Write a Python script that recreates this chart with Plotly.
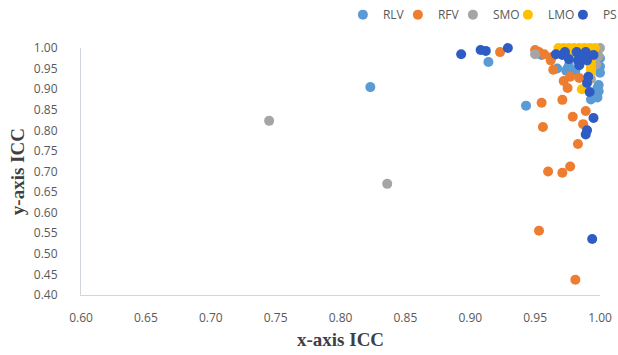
import plotly.graph_objects as go

# ---- data ----
series_names = ["RLV", "RFV", "SMO", "LMO", "PS"]
series_colors = ["#5B9BD5", "#ED7D31", "#A5A5A5", "#FFC000", "#2F5CC4"]

rlv_x = [0.823, 0.914, 0.955, 0.943, 0.975, 0.998, 0.998, 0.993, 0.967, 0.974, 0.981,
         1.000, 1.000, 0.976, 0.990, 1.000, 0.999, 0.999, 0.951, 0.996]
rlv_y = [0.905, 0.966, 0.983, 0.860, 0.951, 0.903, 0.880, 0.875, 0.950, 0.945, 0.945,
         0.975, 0.955, 0.957, 0.990, 0.940, 0.910, 0.895, 0.990, 0.888]

rfv_x = [0.923, 0.950, 0.953, 0.955, 0.971, 0.963, 0.964, 0.962, 0.977, 0.975, 0.984,
         0.989, 0.979, 0.956, 0.987, 0.983, 0.960, 0.971, 0.977, 0.953, 0.981, 0.972, 0.957]
rfv_y = [0.990, 0.995, 0.990, 0.867, 0.874, 0.978, 0.947, 0.970, 0.930, 0.903, 0.927,
         0.847, 0.833, 0.808, 0.815, 0.767, 0.700, 0.697, 0.712, 0.556, 0.437, 0.920, 0.985]

smo_x = [0.745, 0.836, 0.950, 1.000, 0.998, 0.993, 0.997, 0.999]
smo_y = [0.823, 0.670, 0.985, 1.000, 0.990, 0.925, 0.960, 0.980]

lmo_x = [0.968, 0.972, 0.976, 0.980, 0.984, 0.988, 0.992, 0.996, 0.993, 0.993, 0.993,
         0.993, 0.993, 0.993, 0.986, 0.970, 0.975, 0.980]
lmo_y = [1.000, 1.000, 1.000, 1.000, 1.000, 1.000, 1.000, 1.000, 0.990, 0.980, 0.970,
         0.960, 0.950, 0.940, 0.900, 0.995, 0.990, 0.990]

ps_x = [0.893, 0.908, 0.912, 0.929, 0.973, 0.982, 0.989, 0.995, 0.971, 0.983, 0.990,
        0.976, 0.984, 0.990, 0.992, 0.995, 0.990, 0.989, 0.994, 0.966, 0.986, 0.991]
ps_y = [0.985, 0.995, 0.993, 1.000, 0.990, 0.990, 0.990, 0.983, 0.983, 0.970, 0.970,
        0.973, 0.958, 0.915, 0.893, 0.830, 0.800, 0.790, 0.536, 0.985, 0.980, 0.930]

x_ticks = [0.60, 0.65, 0.70, 0.75, 0.80, 0.85, 0.90, 0.95, 1.00]
y_ticks = [0.40, 0.45, 0.50, 0.55, 0.60, 0.65, 0.70, 0.75, 0.80, 0.85, 0.90, 0.95, 1.00]

all_x = [rlv_x, rfv_x, smo_x, lmo_x, ps_x]
all_y = [rlv_y, rfv_y, smo_y, lmo_y, ps_y]

fig = go.Figure()
for name, color, xs, ys in zip(series_names, series_colors, all_x, all_y):
    fig.add_trace(go.Scatter(
        x=xs, y=ys, mode="markers", name=name, cliponaxis=False,
        marker=dict(size=10, color=color, line=dict(width=0)),
    ))

axis_color = "#D0D5DD"
tick_font = dict(family="Open Sans", size=12, color="#595959")

fig.update_layout(
    width=618, height=355,
    margin=dict(l=81, r=18, t=48, b=60, autoexpand=False),
    paper_bgcolor="white", plot_bgcolor="white",
    showlegend=True,
    legend=dict(orientation="h", x=0.5046, xanchor="left", y=1.135, yanchor="middle",
                font=dict(family="Open Sans", size=12, color="#595959"),
                itemwidth=30, entrywidth=10, entrywidthmode="pixels",
                bgcolor="rgba(0,0,0,0)"),
    xaxis=dict(range=[0.60, 1.00], tickvals=x_ticks,
               ticktext=[f"{v:.2f}" for v in x_ticks], showgrid=False, zeroline=False,
               showline=True, linecolor=axis_color, linewidth=1, ticks="",
               tickfont=tick_font, ticklabelstandoff=12),
    yaxis=dict(range=[0.40, 1.00], tickvals=y_ticks,
               ticktext=[f"{v:.2f}" for v in y_ticks], showgrid=False, zeroline=False,
               showline=True, linecolor=axis_color, linewidth=1, ticks="",
               tickfont=tick_font, ticklabelstandoff=20),
    annotations=[
        dict(text="<b>x-axis ICC</b>", xref="paper", yref="paper", x=0.5, y=-0.18,
             showarrow=False, font=dict(family="Liberation Serif", size=19, color="#404040"),
             xanchor="center", yanchor="middle"),
        dict(text="<b>y-axis ICC</b>", xref="paper", yref="paper", x=-0.122, y=0.5,
             textangle=-90, showarrow=False,
             font=dict(family="Liberation Serif", size=19, color="#404040"),
             xanchor="center", yanchor="middle"),
    ],
)

fig.write_html("out.html", config={"displayModeBar": False},
               post_script="document.body.style.margin='0';document.body.style.overflow='hidden';")
